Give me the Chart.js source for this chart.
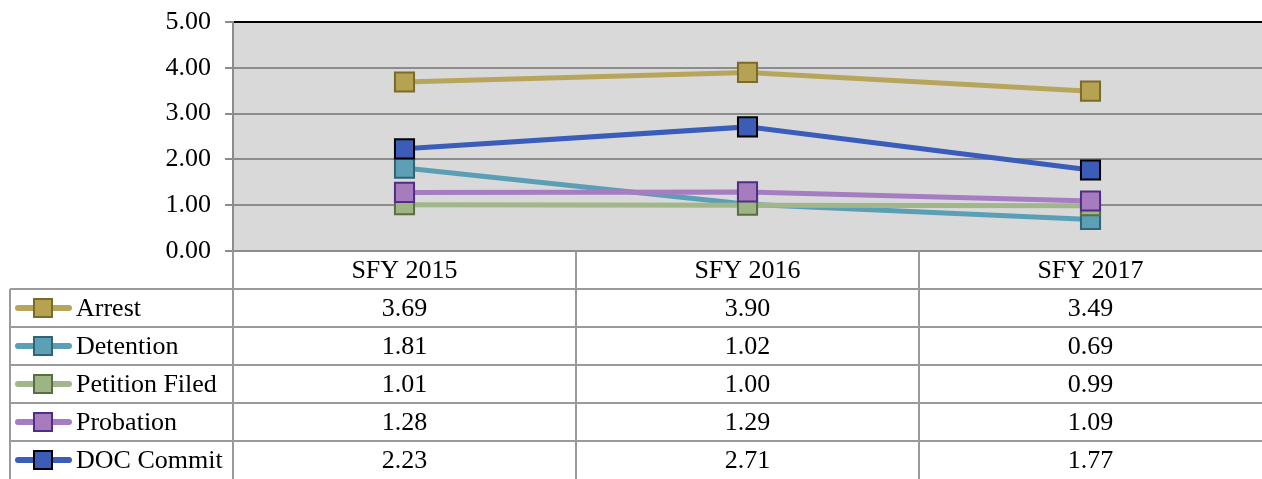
<!DOCTYPE html>
<html>
<head>
<meta charset="utf-8">
<script src="https://cdn.jsdelivr.net/npm/chart.js@4/dist/chart.umd.min.js"></script>
<style>
    html, body { margin: 0; padding: 0; background: #fff; overflow: hidden; }
    #wrap { width: 1262px; height: 479px; }
</style>
</head>
<body>
<div id="wrap"><canvas id="rateChart" width="1262" height="479"></canvas></div>
<script>
// ---------- data ----------
const categories = ['SFY 2015', 'SFY 2016', 'SFY 2017'];
const seriesNames = ['Arrest', 'Detention', 'Petition Filed', 'Probation', 'DOC Commit'];
const arrest = [3.69, 3.90, 3.49];
const detention = [1.81, 1.02, 0.69];
const petitionFiled = [1.01, 1.00, 0.99];
const probation = [1.28, 1.29, 1.09];
const docCommit = [2.23, 2.71, 1.77];
const yMin = 0;
const yMax = 5;
const yStep = 1;

// line colour, marker fill, marker border
const colors = [
    ['#b8a55c', '#b5a253', '#7b6b28'],
    ['#5b9fb6', '#5d9fb4', '#2e6577'],
    ['#a1b68b', '#9db484', '#5a6e42'],
    ['#a67dc2', '#a77cbf', '#4f2e84'],
    ['#3a5db9', '#3b5cb7', '#000000']
];
const allValues = [arrest, detention, petitionFiled, probation, docCommit];

const FONT = '26px "Liberation Serif", "Times New Roman", serif';
const GRID = '#8c8c8c';
const TABLE_LINE = '#9a9a9a';
const ROW_H = 38;

// ---------- plugins ----------
const plotBackground = {
    id: 'plotBackground',
    beforeDraw(chart) {
        const { ctx, chartArea: a } = chart;
        ctx.save();
        ctx.fillStyle = '#d9d9d9';
        ctx.fillRect(a.left, a.top, a.right - a.left, a.bottom - a.top);
        ctx.restore();
    }
};

function drawKey(ctx, i, cy) {
    const [line, fill, border] = colors[i];
    ctx.strokeStyle = line;
    ctx.lineWidth = 6;
    ctx.lineCap = 'round';
    ctx.beginPath();
    ctx.moveTo(18, cy);
    ctx.lineTo(69, cy);
    ctx.stroke();
    ctx.fillStyle = fill;
    ctx.fillRect(34, cy - 9, 18, 18);
    ctx.strokeStyle = border;
    ctx.lineWidth = 2;
    ctx.strokeRect(34, cy - 9, 18, 18);
}

const dataTable = {
    id: 'dataTable',
    afterDraw(chart) {
        const { ctx, chartArea: a } = chart;
        const xs = chart.scales.x;
        const centers = categories.map((c, i) => xs.getPixelForValue(i));
        const bounds = [a.left];
        for (let i = 1; i < centers.length; i++) bounds.push((centers[i - 1] + centers[i]) / 2);

        const headTop = a.bottom;
        const bodyTop = headTop + ROW_H;
        const bottom = chart.height;

        ctx.save();
        ctx.strokeStyle = TABLE_LINE;
        ctx.lineWidth = 2;
        // vertical lines
        bounds.forEach(x => {
            ctx.beginPath();
            ctx.moveTo(x, headTop);
            ctx.lineTo(x, bottom);
            ctx.stroke();
        });
        ctx.beginPath();
        ctx.moveTo(10, bodyTop);
        ctx.lineTo(10, bottom);
        ctx.stroke();
        // horizontal lines
        for (let r = 0; r < seriesNames.length; r++) {
            const y = bodyTop + r * ROW_H;
            ctx.beginPath();
            ctx.moveTo(10, y);
            ctx.lineTo(chart.width, y);
            ctx.stroke();
        }

        ctx.font = FONT;
        ctx.fillStyle = '#000';
        ctx.textBaseline = 'middle';
        ctx.textAlign = 'center';
        categories.forEach((c, i) => ctx.fillText(c, centers[i], headTop + ROW_H / 2 + 1));

        seriesNames.forEach((name, r) => {
            const cy = bodyTop + r * ROW_H + ROW_H / 2;
            drawKey(ctx, r, cy);
            ctx.fillStyle = '#000';
            ctx.textAlign = 'left';
            ctx.fillText(name, 76, cy + 1);
            ctx.textAlign = 'center';
            allValues[r].forEach((v, i) => ctx.fillText(v.toFixed(2), centers[i], cy + 1));
        });
        ctx.restore();
    }
};

// ---------- chart ----------
const datasets = seriesNames.map((name, i) => ({
    label: name,
    data: allValues[i],
    borderColor: colors[i][0],
    backgroundColor: colors[i][1],
    pointBackgroundColor: colors[i][1],
    pointBorderColor: colors[i][2],
    borderWidth: 5,
    pointBorderWidth: 2,
    pointStyle: 'rect',
    pointRadius: 13.5,
    pointHoverRadius: 13.5,
    tension: 0,
    fill: false,
    clip: false,
    order: seriesNames.length - i
}));

new Chart(document.getElementById('rateChart'), {
    type: 'line',
    data: { labels: categories, datasets: datasets },
    options: {
        responsive: false,
        animation: false,
        events: [],
        layout: { autoPadding: false, padding: { top: 22, right: 0, bottom: 479 - 251, left: 0 } },
        plugins: {
            legend: { display: false },
            tooltip: { enabled: false }
        },
        scales: {
            x: {
                offset: true,
                grid: { display: false, drawTicks: false },
                ticks: { display: false },
                border: { display: true, color: GRID, width: 2 }
            },
            y: {
                min: yMin,
                max: yMax,
                afterFit(s) {
                    s.width = 233;
                    s.paddingTop = 0;
                    s.paddingBottom = 0;
                },
                ticks: {
                    stepSize: yStep,
                    padding: 14,
                    color: '#000',
                    font: { family: '"Liberation Serif", "Times New Roman", serif', size: 26 },
                    callback: v => v.toFixed(2)
                },
                grid: {
                    color: c => (c.tick && c.tick.value === yMax ? '#000' : GRID),
                    lineWidth: 2,
                    tickColor: GRID,
                    tickLength: 8
                },
                border: { display: true, color: GRID, width: 2 }
            }
        }
    },
    plugins: [plotBackground, dataTable]
});
</script>
</body>
</html>
